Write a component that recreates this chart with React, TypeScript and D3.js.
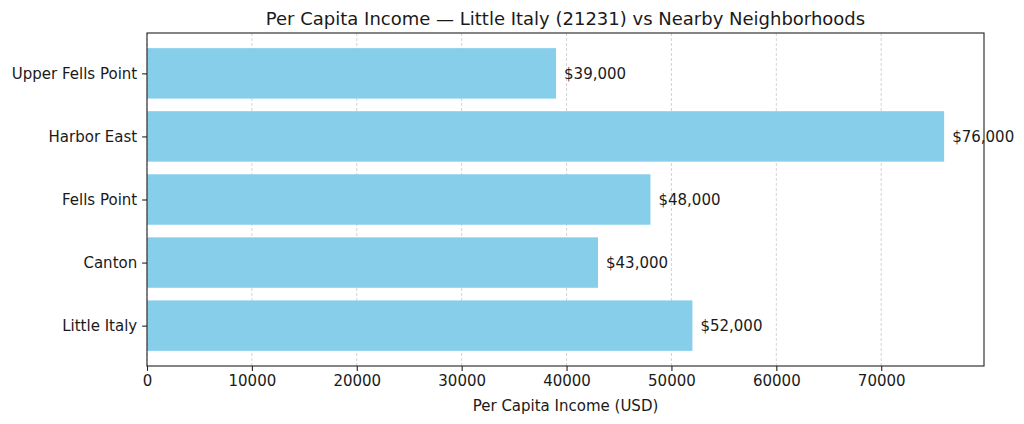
import { useRef, useEffect } from 'react';
import * as d3 from 'd3';

// Neighborhoods, bottom to top as drawn
const neighborhoods = ['Little Italy', 'Canton', 'Fells Point', 'Harbor East', 'Upper Fells Point'];
const incomes = [52000, 43000, 48000, 76000, 39000];
const xTicks = [0, 10000, 20000, 30000, 40000, 50000, 60000, 70000];

const WIDTH = 1024;
const HEIGHT = 424;
const FONT = '"DejaVu Sans", sans-serif';
const TICK_FS = 15;
const TITLE_FS = 18;

export default function App() {
  const svgRef = useRef<SVGSVGElement>(null);

  useEffect(() => {
    if (!svgRef.current) return;
    const svg = d3.select(svgRef.current);
    svg.selectAll('*').remove();

    const left = 147, right = 984, top = 33, bottom = 366;
    const barH = 0.8;
    const maxVal = d3.max(incomes) as number;

    const x = d3.scaleLinear().domain([0, maxVal * 1.05]).range([left, right]);
    const y = d3.scaleLinear()
      .domain([-barH / 2 - 0.24, neighborhoods.length - 1 + barH / 2 + 0.24])
      .range([bottom, top]);

    svg.append('rect').attr('width', WIDTH).attr('height', HEIGHT).attr('fill', '#fff');

    // vertical dashed grid
    svg.append('g')
      .selectAll('line')
      .data(xTicks)
      .enter().append('line')
      .attr('x1', d => x(d)).attr('x2', d => x(d))
      .attr('y1', top).attr('y2', bottom)
      .attr('stroke', '#b0b0b0')
      .attr('stroke-width', 0.8)
      .attr('stroke-opacity', 0.7)
      .attr('stroke-dasharray', '3,2');

    // bars
    const rows = neighborhoods.map((name, i) => ({ name, value: incomes[i], i }));
    svg.append('g')
      .selectAll('rect')
      .data(rows)
      .enter().append('rect')
      .attr('x', x(0))
      .attr('y', d => y(d.i + barH / 2))
      .attr('width', d => x(d.value) - x(0))
      .attr('height', d => y(d.i - barH / 2) - y(d.i + barH / 2))
      .attr('fill', '#87ceeb');

    // value labels
    svg.append('g')
      .selectAll('text')
      .data(rows)
      .enter().append('text')
      .attr('x', d => x(d.value) + 8)
      .attr('y', d => y(d.i))
      .attr('dy', '0.35em')
      .attr('font-family', FONT)
      .attr('font-size', TICK_FS)
      .attr('fill', '#1a1a1a')
      .text(d => `$${d3.format(',')(d.value)}`);

    // frame
    svg.append('rect')
      .attr('x', left).attr('y', top)
      .attr('width', right - left).attr('height', bottom - top)
      .attr('fill', 'none')
      .attr('stroke', '#222')
      .attr('stroke-width', 1.1);

    // x axis
    const xAxis = d3.axisBottom(x).tickValues(xTicks).tickFormat(d => String(d)).tickSizeOuter(0).tickSize(4.9).tickPadding(4.9);
    const gx = svg.append('g').attr('transform', `translate(0,${bottom})`).call(xAxis);
    gx.select('.domain').remove();
    gx.selectAll('line').attr('stroke', '#222').attr('stroke-width', 1.1);
    gx.selectAll('text').attr('font-family', FONT).attr('font-size', TICK_FS).attr('fill', '#1a1a1a');

    // y axis
    const yAxis = d3.axisLeft(y)
      .tickValues(d3.range(neighborhoods.length))
      .tickFormat(d => neighborhoods[d as number])
      .tickSizeOuter(0).tickSize(4.9).tickPadding(4.9);
    const gy = svg.append('g').attr('transform', `translate(${left},0)`).call(yAxis);
    gy.select('.domain').remove();
    gy.selectAll('line').attr('stroke', '#222').attr('stroke-width', 1.1);
    gy.selectAll('text').attr('font-family', FONT).attr('font-size', TICK_FS).attr('fill', '#1a1a1a');

    // axis label
    svg.append('text')
      .attr('x', (left + right) / 2)
      .attr('y', 411)
      .attr('text-anchor', 'middle')
      .attr('font-family', FONT)
      .attr('font-size', TICK_FS)
      .attr('fill', '#1a1a1a')
      .text('Per Capita Income (USD)');

    // title
    svg.append('text')
      .attr('x', (left + right) / 2)
      .attr('y', 25)
      .attr('text-anchor', 'middle')
      .attr('font-family', FONT)
      .attr('font-size', TITLE_FS)
      .attr('fill', '#1a1a1a')
      .text('Per Capita Income — Little Italy (21231) vs Nearby Neighborhoods');
  }, []);

  return (
    <svg ref={svgRef} width={WIDTH} height={HEIGHT}
      style={{ position: 'absolute', left: 0, top: 0, display: 'block' }} />
  );
}
